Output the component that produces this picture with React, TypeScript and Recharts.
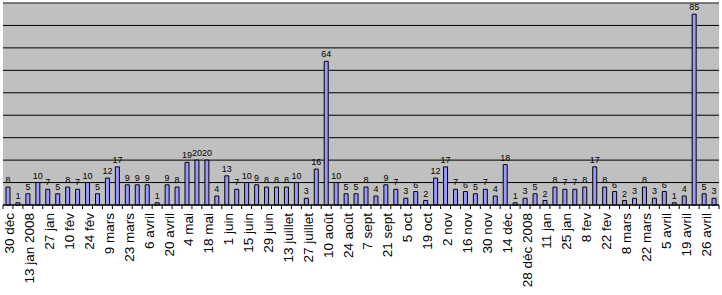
import React from "react";
import { BarChart, Bar, XAxis, YAxis, CartesianGrid, ReferenceLine, LabelList } from "recharts";

// weekly counts, 30 déc 2007 -> avril 2009
const weekLabels = [
  "30 déc", "", "13 jan 2008", "", "27 jan", "", "10 fév", "", "24 fév", "",
  "9 mars", "", "23 mars", "", "6 avril", "", "20 avril", "", "4 mai", "",
  "18 mai", "", "1 juin", "", "15 juin", "", "29 juin", "", "13 juillet", "",
  "27 juillet", "", "10 août", "", "24 août", "", "7 sept", "", "21 sept", "",
  "5 oct", "", "19 oct", "", "2 nov", "", "16 nov", "", "30 nov", "",
  "14 déc", "", "28 déc 2008", "", "11 jan", "", "25 jan", "", "8 fev", "",
  "22 fev", "", "8 mars", "", "22 mars", "", "5 avril", "", "19 avril", "",
  "26 avril", "",
];

const counts = [
  8, 1, 5, 10, 7, 5, 8, 7, 10, 5,
  12, 17, 9, 9, 9, 1, 9, 8, 19, 20,
  20, 4, 13, 7, 10, 9, 8, 8, 8, 10,
  3, 16, 64, 10, 5, 5, 8, 4, 9, 7,
  3, 6, 2, 12, 17, 7, 6, 5, 7, 4,
  18, 1, 3, 5, 2, 8, 7, 7, 8, 17,
  8, 6, 2, 3, 8, 3, 6, 1, 4, 85,
  5, 3,
];

const yTicks = [0, 10, 20, 30, 40, 50, 60, 70, 80];

const data = counts.map((v, i) => ({ key: i, label: weekLabels[i], value: v }));

const W = 722;
const H = 295;
const M = { top: 3, right: 3, left: 3, bottom: 0 };
const BAND = (W - M.left - M.right) / counts.length;
const FONT = "Liberation Sans, Arial, sans-serif";

function WeekTick(props: any) {
  const { x, y, index } = props;
  const label = weekLabels[index];
  return (
    <g>
      <line x1={x - BAND / 2} x2={x - BAND / 2} y1={y} y2={y + 4} stroke="#000" />
      {index === counts.length - 1 && (
        <line x1={x + BAND / 2} x2={x + BAND / 2} y1={y} y2={y + 4} stroke="#000" />
      )}
      {label && (
        <text
          transform={`translate(${x},${y + 8}) rotate(-90)`}
          textAnchor="end"
          dy={6.5}
          fontSize={13.5}
          fill="#000"
          fontFamily={FONT}
        >
          {label}
        </text>
      )}
    </g>
  );
}

export default function App() {
  return (
    <div style={{ width: W, height: H, background: "#fff", fontFamily: FONT }}>
      <style>{"body{margin:0}"}</style>
      <BarChart width={W} height={H} data={data} margin={M} barCategoryGap={0}>
        <CartesianGrid vertical={false} stroke="#000" fill="#c0c0c0" fillOpacity={1} />
        <XAxis
          dataKey="key"
          interval={0}
          height={90}
          tickLine={false}
          tickSize={0}
          tickMargin={0}
          axisLine={{ stroke: "#000" }}
          tick={<WeekTick />}
        />
        <YAxis
          width={0}
          domain={[0, 90]}
          ticks={yTicks}
          interval={0}
          tick={{ fill: "transparent", fontSize: 1 }}
          tickLine={false}
          axisLine={{ stroke: "#808080" }}
        />
        <ReferenceLine y={90} stroke="#808080" />
        <Bar dataKey="value" barSize={4} fill="#9999ff" stroke="#000" strokeWidth={1} isAnimationActive={false}>
          <LabelList
            dataKey="value"
            position="top"
            offset={4}
            fontSize={9}
            fill="#000"
            fontFamily={FONT}
          />
        </Bar>
      </BarChart>
    </div>
  );
}
